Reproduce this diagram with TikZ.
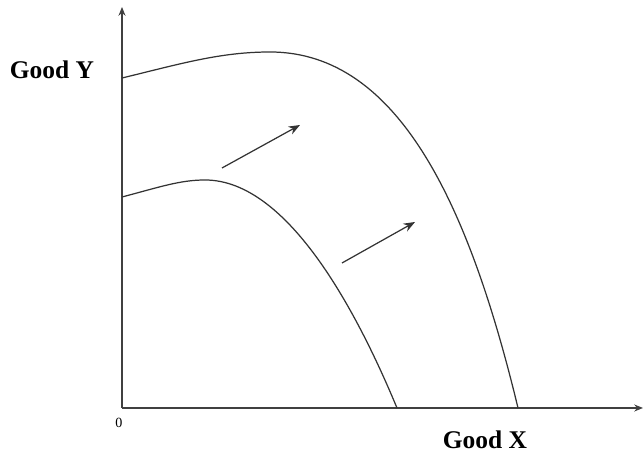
\documentclass[tikz,border=0pt]{standalone}
\usepackage{fontspec}
\setmainfont{Liberation Serif}
\usetikzlibrary{arrows.meta}

\begin{document}
\begin{tikzpicture}[
    x=0.02cm, y=0.02cm,
    axis/.style={draw=black!75, line width=0.7pt, -{Stealth[length=5pt,width=4pt]}},
    ppf/.style={draw=black!80, line width=0.7pt},
    moveout/.style={draw=black!80, line width=0.7pt, -{Stealth[length=6.5pt,width=5pt]}},
    lbl/.style={font=\bfseries\fontsize{14.5}{16}\selectfont, inner sep=0pt},
]
\useasboundingbox (0,0) rectangle (643,459);

% Axes
\coordinate (O) at (122,51);
\coordinate (ytop) at (122,452);
\coordinate (xend) at (643,51);
\draw[axis] (O) -- (ytop);
\draw[axis] (O) -- (xend);

% Labels
\node[lbl] (goody) at (52,389) {Good Y};
\node[lbl] (goodx) at (485,19) {Good X};
\node[font=\fontsize{8}{9}\selectfont, inner sep=0pt] (zero) at (119,36) {0};

% Outer frontier
\draw[ppf] (122,381) .. controls (180,395) and (220,407) .. (270,407)
           .. controls (400,407) and (470,250) .. (518,51);

% Inner frontier
\draw[ppf] (122,262) .. controls (160,272) and (180,279) .. (205,279)
           .. controls (290,279) and (360,140) .. (397,51);

% Outward shift
\coordinate (a1) at (222,291);
\coordinate (a2) at (300,334);
\coordinate (b1) at (342,196);
\coordinate (b2) at (415,237);
\draw[moveout] (a1) -- (a2);
\draw[moveout] (b1) -- (b2);

\end{tikzpicture}
\end{document}
